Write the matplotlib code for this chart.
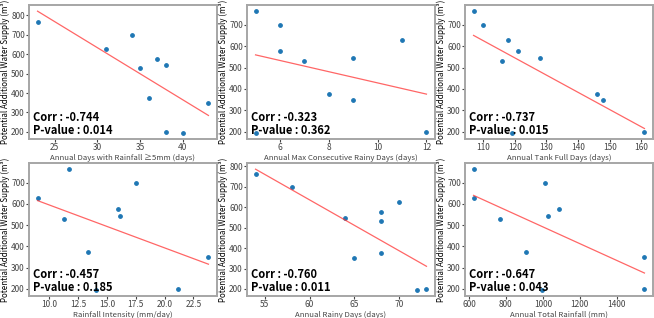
import numpy as np
import matplotlib
matplotlib.use("Agg")
import matplotlib.pyplot as plt

plt.rcParams['font.family'] = ['Noto Sans CJK KR', 'DejaVu Sans']

# potential additional water supply (m3), one value per year
supply = [763, 698, 627, 575, 545, 530, 375, 350, 200, 195]

days_5mm = [23, 34, 31, 37, 38, 35, 36, 43, 38, 40]
max_consec = [5, 6, 11, 6, 9, 7, 8, 9, 12, 5]
tank_full = [107, 110, 118, 121, 128, 116, 146, 148, 161, 119]
intensity = [11.7, 17.5, 9.0, 16.0, 16.1, 11.3, 13.4, 23.8, 21.2, 14.1]
rainy_days = [54, 58, 70, 68, 64, 68, 68, 65, 73, 72]
total_rain = [630, 1010, 625, 1085, 1030, 770, 910, 1550, 1550, 995]

xlabels = ["Annual Days with Rainfall \u22655mm (days)",
           "Annual Max Consecutive Rainy Days (days)",
           "Annual Tank Full Days (days)",
           "Rainfall Intensity (mm/day)",
           "Annual Rainy Days (days)",
           "Annual Total Rainfall (mm)"]
corr = ["-0.744", "-0.323", "-0.737", "-0.457", "-0.760", "-0.647"]
pval = ["0.014", "0.362", "0.015", "0.185", "0.011", "0.043"]
xs = [days_5mm, max_consec, tank_full, intensity, rainy_days, total_rain]

fig = plt.figure(figsize=(6.54, 3.18), dpi=100)
lefts = [29, 247, 465]
rows = [(0.563, 0.421), (0.069, 0.418)]

for i in range(6):
    r, c = divmod(i, 3)
    ax = fig.add_axes([lefts[c] / 654, rows[r][0], 188 / 654, rows[r][1]])
    x = np.array(xs[i], dtype=float)
    y = np.array(supply, dtype=float)
    ax.scatter(x, y, s=6, color='#1f77b4', zorder=2)
    k, b = np.polyfit(x, y, 1)
    xx = np.array([x.min(), x.max()])
    ax.plot(xx, k * xx + b, color='#ff3333', lw=0.9, alpha=0.75)
    ax.set_xlabel(xlabels[i], fontsize=5.6, color='#444444', labelpad=1)
    ax.set_ylabel("Potential Additional Water Supply (m\u00b3)", fontsize=5.8,
                  labelpad=1)
    ax.tick_params(labelsize=6, length=2, pad=1, colors='#444444')
    for s in ax.spines.values():
        s.set_color('#a6a6a6')
        s.set_linewidth(1.4)
    ax.text(0.022, 0.133, "Corr : " + corr[i], transform=ax.transAxes,
            fontsize=8, fontweight='bold', zorder=5)
    ax.text(0.022, 0.04, "P-value : " + pval[i], transform=ax.transAxes,
            fontsize=8, fontweight='bold', zorder=5)

fig.savefig("out.png", dpi=100)
